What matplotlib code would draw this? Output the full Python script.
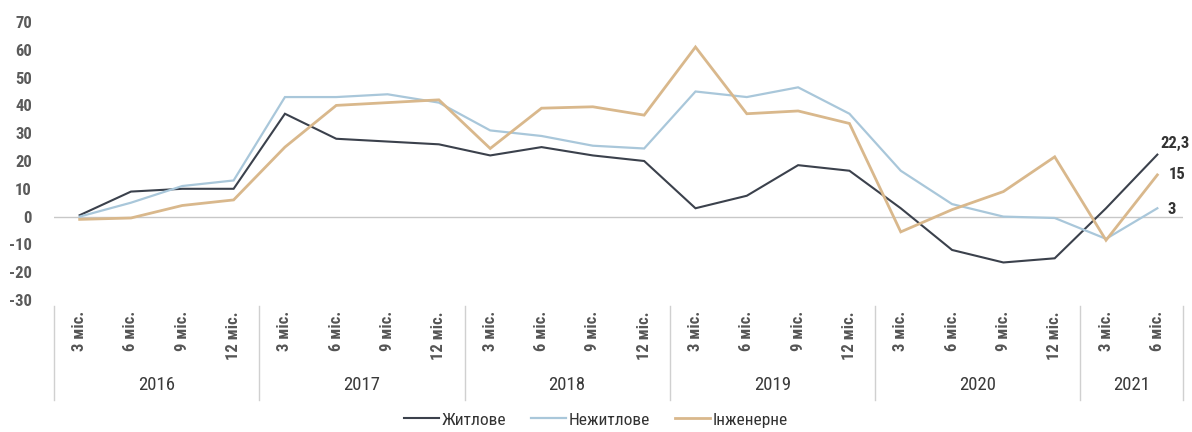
import numpy as np
import matplotlib
matplotlib.use("Agg")
import matplotlib.pyplot as plt
import matplotlib.transforms as mtransforms

plt.rcParams['font.family'] = ['Liberation Sans Narrow', 'Roboto Condensed', 'DejaVu Sans']

# квартали 2016-2021
kvartaly = ["3 міс.", "6 міс.", "9 міс.", "12 міс."] * 5 + ["3 міс.", "6 міс."]
roky = ["2016", "2017", "2018", "2019", "2020", "2021"]
kvartaly_v_roci = [4, 4, 4, 4, 4, 2]

zhytlove = [0.5, 9, 10, 10, 37, 28, 27, 26, 22, 25, 22, 20,
            3, 7.5, 18.5, 16.5, 3, -12, -16.5, -15, 3, 22.3]
nezhytlove = [0, 5, 11, 13, 43, 43, 44, 41, 31, 29, 25.5, 24.5,
              45, 43, 46.5, 37, 16.5, 4.5, 0, -0.5, -8, 3]
inzhenerne = [-1, -0.5, 4, 6, 25, 40, 41, 42, 24.5, 39, 39.5, 36.5,
              61, 37, 38, 33.5, -5.5, 2.5, 9, 21.5, -8.5, 15]

serii = [("Житлове", zhytlove, "#3b414c", 1.5),
         ("Нежитлове", nezhytlove, "#a9c7da", 1.6),
         ("Інженерне", inzhenerne, "#d9b88c", 2.0)]

fig = plt.figure(figsize=(11.92, 4.32), dpi=100)
ax = fig.add_axes([54 / 1192, 1 - 300 / 432, (1183 - 54) / 1192, 278 / 432])

x = np.arange(len(kvartaly))
for nazva, dani, kolir, tovshchyna in serii:
    ax.plot(x, dani, color=kolir, lw=tovshchyna, label=nazva, solid_joinstyle="miter")

ax.axhline(0, color="#c8c8c8", lw=1.0, zorder=0)

ax.set_xlim(-0.5, len(kvartaly) - 0.5)
ax.set_ylim(-30, 70)
ax.set_yticks(np.arange(-30, 71, 10))
ax.set_yticklabels([str(v) for v in range(-30, 71, 10)], fontweight="semibold")
ax.tick_params(axis="y", length=0, pad=16, labelsize=12, labelcolor="#5a5a5a")
ax.set_xticks(x)
ax.set_xticklabels(kvartaly, rotation=90, fontsize=12, color="#555555", fontweight="semibold")
ax.tick_params(axis="x", length=0, pad=8)
for s in ax.spines.values():
    s.set_visible(False)

# роки під підписами кварталів + роздільники
trans = mtransforms.blended_transform_factory(ax.transData, ax.transAxes)
pochatok = -0.5
ax.plot([pochatok, pochatok], [-0.02, -0.36], color="#d0d0d0", lw=1, transform=trans, clip_on=False)
for rik, n in zip(roky, kvartaly_v_roci):
    kinec = pochatok + n
    ax.text((pochatok + kinec) / 2, -0.305, rik, transform=trans, ha="center", va="center",
            fontsize=13.5, color="#3a3a3a")
    ax.plot([kinec, kinec], [-0.02, -0.36], color="#d0d0d0", lw=1, transform=trans, clip_on=False)
    pochatok = kinec

# значення на кінці рядів
ax.annotate("22,3", (x[-1], zhytlove[-1]), xytext=(2, 8), textcoords="offset points",
            ha="left", va="center", fontsize=12, color="#333333", fontweight="bold")
ax.annotate("15", (x[-1], inzhenerne[-1]), xytext=(8, 0), textcoords="offset points",
            ha="left", va="center", fontsize=12, color="#333333", fontweight="bold")
ax.annotate("3", (x[-1], nezhytlove[-1]), xytext=(7, -1), textcoords="offset points",
            ha="left", va="center", fontsize=12, color="#333333", fontweight="bold")

fig.legend(loc="center", bbox_to_anchor=(0.5, 1 - 420 / 432), ncol=3, frameon=False,
           fontsize=12.5, handlelength=2.0, handletextpad=0.2, columnspacing=1.4,
           labelcolor="#333333")

fig.savefig("out.png", dpi=100, facecolor="white")
